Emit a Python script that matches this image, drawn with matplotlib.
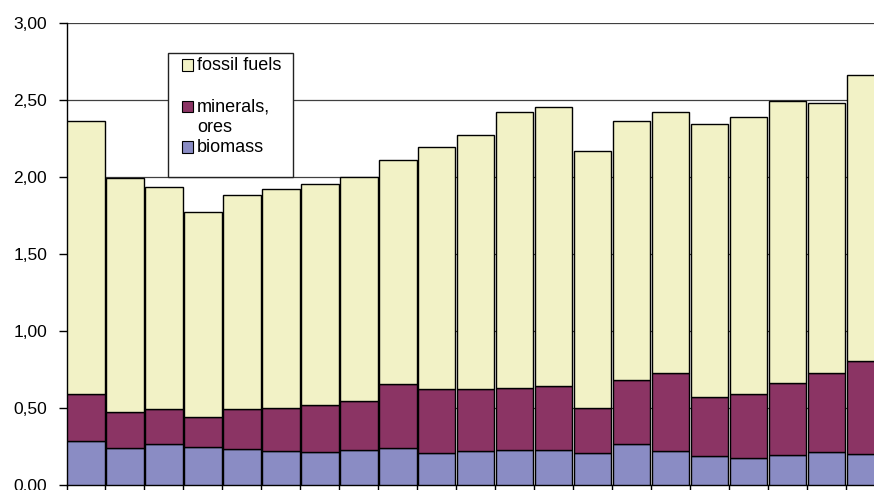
import matplotlib
matplotlib.use("Agg")
import matplotlib.pyplot as plt
from matplotlib.patches import Rectangle
from matplotlib.ticker import FuncFormatter, MultipleLocator
import numpy as np

plt.rcParams['font.family'] = ['Liberation Sans', 'DejaVu Sans']

# data (21 periods, stacked)
biomass = [0.286, 0.24, 0.266, 0.247, 0.234, 0.22, 0.214, 0.227, 0.24, 0.208, 0.22,
           0.227, 0.227, 0.208, 0.264, 0.22, 0.188, 0.175, 0.195, 0.214, 0.20]
minerals_cum = [0.59, 0.47, 0.49, 0.44, 0.49, 0.50, 0.52, 0.545, 0.654, 0.62, 0.62,
                0.63, 0.64, 0.50, 0.68, 0.724, 0.57, 0.59, 0.66, 0.727, 0.805]
totals = [2.36, 1.99, 1.93, 1.77, 1.88, 1.92, 1.95, 2.00, 2.11, 2.19, 2.27,
          2.42, 2.45, 2.17, 2.36, 2.42, 2.34, 2.39, 2.49, 2.48, 2.66]
labels = ["fossil fuels", "minerals,\nores", "biomass"]

biomass = np.array(biomass)
minerals = np.array(minerals_cum) - biomass
fossil = np.array(totals) - np.array(minerals_cum)

c_fossil = '#F2F2C6'
c_min = '#8B3464'
c_bio = '#8A8CC4'

W, H = 874, 490
fig = plt.figure(figsize=(W / 100, H / 100), dpi=100)
ax = fig.add_axes([66.5 / W, 5.3 / H, (885 - 66.5) / W, (467.3 - 5.3) / H])

x = np.arange(len(totals))
bw = 0.96
ax.bar(x, biomass, width=bw, color=c_bio, edgecolor='black', linewidth=1, zorder=3)
ax.bar(x, minerals, width=bw, bottom=biomass, color=c_min, edgecolor='black', linewidth=1, zorder=3)
ax.bar(x, fossil, width=bw, bottom=biomass + minerals, color=c_fossil, edgecolor='black', linewidth=1, zorder=3)

ax.set_xlim(-0.5, len(totals) - 0.5)
ax.set_ylim(0, 3.0)
ax.yaxis.set_major_locator(MultipleLocator(0.5))
ax.yaxis.set_major_formatter(FuncFormatter(lambda v, p: f"{v:.2f}".replace('.', ',')))
ax.grid(axis='y', color='#404040', linewidth=0.9, zorder=0)
ax.set_xticks(np.arange(len(totals) + 1) - 0.5)
ax.set_xticklabels([])
ax.tick_params(axis='x', direction='out', length=5, width=1, color='black')
ax.tick_params(axis='y', direction='out', length=6, width=1, color='black', labelsize=12.5, pad=8)
for s in ['top', 'right']:
    ax.spines[s].set_visible(False)
ax.spines['left'].set_linewidth(1)
ax.spines['bottom'].set_linewidth(1)

# manual legend (Excel style)
def fx(px):
    return px / W

def fy(py):
    return 1 - py / H

fig.patches.append(Rectangle((fx(168), fy(177)), fx(293) - fx(168), fy(53) - fy(177),
                             transform=fig.transFigure, facecolor='white', edgecolor='#222222',
                             linewidth=1, zorder=5))
entries = [(labels[0], c_fossil, 65), (labels[1], c_min, 107), (labels[2], c_bio, 147)]
line_h = 20
for lab, col, yc in entries:
    fig.patches.append(Rectangle((fx(182), fy(yc + 5.5)), fx(11), 11 / H,
                                 transform=fig.transFigure, facecolor=col, edgecolor='black',
                                 linewidth=0.8, zorder=6))
    for k, line in enumerate(lab.split('\n')):
        fig.text(fx(197), fy(yc + k * line_h), line, fontsize=13, va='center', ha='left', zorder=7)

fig.savefig('out.png', dpi=100)
